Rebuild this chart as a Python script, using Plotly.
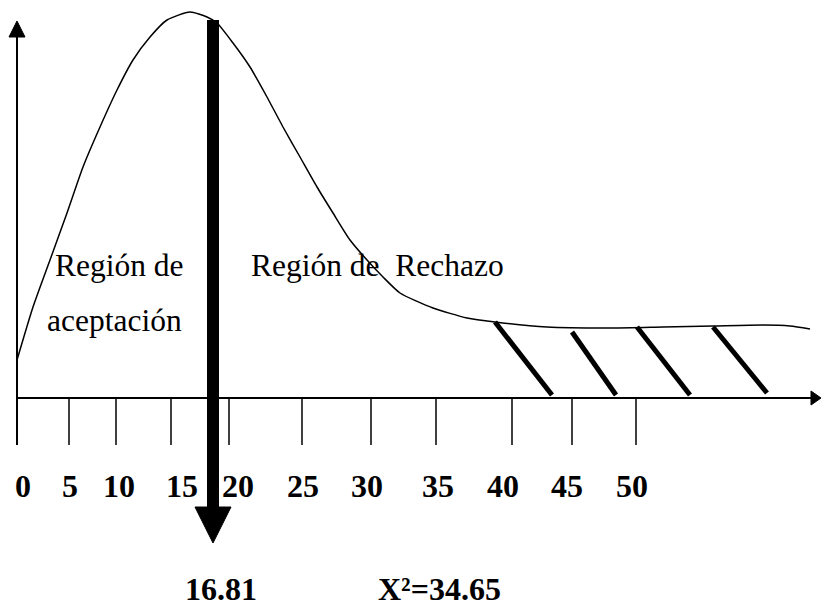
import plotly.graph_objects as go

# Diagram coordinates (drawing units, origin top-left of the sketch)
curve_x = [17, 33, 50, 67, 83, 100, 117, 133, 150, 167, 190, 207, 217, 233, 250, 267, 283,
           300, 317, 333, 350, 367, 383, 400, 433, 467, 495, 547, 613, 663, 713, 763, 790, 810]
curve_y = [360, 307, 260, 213, 167, 127, 90, 60, 37, 20, 12, 17, 23, 43, 67, 97, 127,
           157, 187, 213, 240, 260, 277, 293, 308, 318, 322, 327, 328, 327, 326, 325, 326, 329]

tick_pos = [17, 69, 116, 171, 229, 302, 371, 436, 512, 572, 636]
tick_labels = ["0", "5", "10", "15", "20", "25", "30", "35", "40", "45", "50"]
label_pos = [23, 70, 119, 182, 238, 303, 367, 438, 503, 567, 632]

hatch_x0 = [495, 572, 637, 713]
hatch_y0 = [322, 332, 327, 327]
hatch_x1 = [552, 616, 690, 767]
hatch_y1 = [395, 395, 395, 393]

critical_label = "16.81"
stat_label = "X²=34.65"

axis_y = 398
yaxis_x = 17
tick_bottom = 445

fig = go.Figure()

def line(xs, ys, w, color="black"):
    fig.add_trace(go.Scatter(x=xs, y=ys, mode="lines",
                             line=dict(color=color, width=w),
                             hoverinfo="skip", showlegend=False, cliponaxis=False))

def tri(xs, ys):
    fig.add_trace(go.Scatter(x=xs, y=ys, mode="lines", fill="toself",
                             fillcolor="black", line=dict(color="black", width=1),
                             hoverinfo="skip", showlegend=False, cliponaxis=False))

# curve
fig.add_trace(go.Scatter(x=curve_x, y=curve_y, mode="lines",
                         line=dict(color="black", width=1.5, shape="spline", smoothing=0.6),
                         hoverinfo="skip", showlegend=False, cliponaxis=False))

# y axis with arrow
line([yaxis_x, yaxis_x], [36, tick_bottom], 2)
tri([yaxis_x - 8, yaxis_x + 8, yaxis_x, yaxis_x - 8], [37, 37, 21, 37])

# x axis with arrow
line([yaxis_x, 813], [axis_y, axis_y], 2)
tri([811, 811, 821, 811], [axis_y - 7, axis_y + 7, axis_y, axis_y - 7])

# ticks
for t in tick_pos:
    line([t, t], [axis_y, tick_bottom], 1.5)

# hatches of the rejection region
for a, b, c, d in zip(hatch_x0, hatch_y0, hatch_x1, hatch_y1):
    line([a, c], [b, d], 5)

# thick arrow at critical value
line([213, 213], [20, 508], 12)
tri([195, 231, 213, 195], [507, 507, 543, 507])

font_tn = dict(family="Liberation Serif", size=31.5, color="black")
font_b = dict(family="Liberation Serif", size=32, color="black")

ann = []
ann.append(dict(x=53, y=265, text="Región de", xanchor="left", yanchor="middle", font=font_tn))
ann.append(dict(x=45, y=320, text="aceptación", xanchor="left", yanchor="middle", font=font_tn))
ann.append(dict(x=249, y=265, text="Región de  Rechazo", xanchor="left", yanchor="middle", font=font_tn))
for p, s in zip(label_pos, tick_labels):
    ann.append(dict(x=p, y=486, text="<b>%s</b>" % s, xanchor="center", yanchor="middle", font=font_b))
ann.append(dict(x=221, y=589, text="<b>%s</b>" % critical_label, xanchor="center", yanchor="middle", font=font_b))
ann.append(dict(x=376, y=589, text="<b>%s</b>" % stat_label, xanchor="left", yanchor="middle", font=font_b))
for a in ann:
    a.update(xref="x", yref="y", showarrow=False)

fig.update_layout(
    width=822, height=613,
    margin=dict(l=0, r=0, t=0, b=0),
    paper_bgcolor="white", plot_bgcolor="white",
    xaxis=dict(range=[0, 822], visible=False, fixedrange=True),
    yaxis=dict(range=[613, 0], visible=False, fixedrange=True),
    annotations=ann,
    showlegend=False,
)

# remove the page's default body margin so the figure fills the window exactly
fig.write_html(
    "out.html",
    config={"displayModeBar": False},
    post_script="document.body.style.margin='0';document.body.style.overflow='hidden';",
)
